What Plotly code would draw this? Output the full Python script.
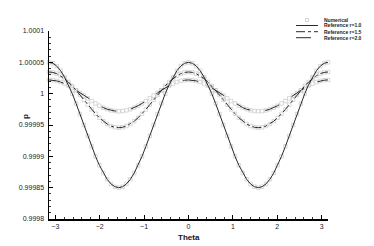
import numpy as np
import plotly.graph_objects as go

# ---- data ----
theta_deg = [-180, -175, -170, -165, -160, -155, -150, -145, -140, -135, -130, -125,
             -120, -115, -110, -105, -100, -95, -90, -85, -80, -75, -70, -65,
             -60, -55, -50, -45, -40, -35, -30, -25, -20, -15, -10, -5,
             0, 5, 10, 15, 20, 25, 30, 35, 40, 45, 50, 55,
             60, 65, 70, 75, 80, 85, 90, 95, 100, 105, 110, 115,
             120, 125, 130, 135, 140, 145, 150, 155, 160, 165, 170, 175, 180]

p_r10 = [1.0000500, 1.0000485, 1.0000440, 1.0000366, 1.0000266, 1.0000143, 1.0000000,
         0.9999842, 0.9999674, 0.9999500, 0.9999326, 0.9999158, 0.9999000, 0.9998857,
         0.9998734, 0.9998634, 0.9998560, 0.9998515, 0.9998500, 0.9998515, 0.9998560,
         0.9998634, 0.9998734, 0.9998857, 0.9999000, 0.9999158, 0.9999326, 0.9999500,
         0.9999674, 0.9999842, 1.0000000, 1.0000143, 1.0000266, 1.0000366, 1.0000440,
         1.0000485, 1.0000500, 1.0000485, 1.0000440, 1.0000366, 1.0000266, 1.0000143,
         1.0000000, 0.9999842, 0.9999674, 0.9999500, 0.9999326, 0.9999158, 0.9999000,
         0.9998857, 0.9998734, 0.9998634, 0.9998560, 0.9998515, 0.9998500, 0.9998515,
         0.9998560, 0.9998634, 0.9998734, 0.9998857, 0.9999000, 0.9999158, 0.9999326,
         0.9999500, 0.9999674, 0.9999842, 1.0000000, 1.0000143, 1.0000266, 1.0000366,
         1.0000440, 1.0000485, 1.0000500]

p_r15 = [1.0000346, 1.0000339, 1.0000319, 1.0000286, 1.0000242, 1.0000187, 1.0000123,
         1.0000053, 0.9999978, 0.9999901, 0.9999824, 0.9999749, 0.9999679, 0.9999616,
         0.9999561, 0.9999516, 0.9999484, 0.9999464, 0.9999457, 0.9999464, 0.9999484,
         0.9999516, 0.9999561, 0.9999616, 0.9999679, 0.9999749, 0.9999824, 0.9999901,
         0.9999978, 1.0000053, 1.0000123, 1.0000187, 1.0000242, 1.0000286, 1.0000319,
         1.0000339, 1.0000346, 1.0000339, 1.0000319, 1.0000286, 1.0000242, 1.0000187,
         1.0000123, 1.0000053, 0.9999978, 0.9999901, 0.9999824, 0.9999749, 0.9999679,
         0.9999616, 0.9999561, 0.9999516, 0.9999484, 0.9999464, 0.9999457, 0.9999464,
         0.9999484, 0.9999516, 0.9999561, 0.9999616, 0.9999679, 0.9999749, 0.9999824,
         0.9999901, 0.9999978, 1.0000053, 1.0000123, 1.0000187, 1.0000242, 1.0000286,
         1.0000319, 1.0000339, 1.0000346]

p_r20 = [1.0000219, 1.0000215, 1.0000204, 1.0000185, 1.0000160, 1.0000129, 1.0000094,
         1.0000054, 1.0000012, 0.9999969, 0.9999925, 0.9999883, 0.9999844, 0.9999808,
         0.9999777, 0.9999752, 0.9999734, 0.9999723, 0.9999719, 0.9999723, 0.9999734,
         0.9999752, 0.9999777, 0.9999808, 0.9999844, 0.9999883, 0.9999925, 0.9999969,
         1.0000012, 1.0000054, 1.0000094, 1.0000129, 1.0000160, 1.0000185, 1.0000204,
         1.0000215, 1.0000219, 1.0000215, 1.0000204, 1.0000185, 1.0000160, 1.0000129,
         1.0000094, 1.0000054, 1.0000012, 0.9999969, 0.9999925, 0.9999883, 0.9999844,
         0.9999808, 0.9999777, 0.9999752, 0.9999734, 0.9999723, 0.9999719, 0.9999723,
         0.9999734, 0.9999752, 0.9999777, 0.9999808, 0.9999844, 0.9999883, 0.9999925,
         0.9999969, 1.0000012, 1.0000054, 1.0000094, 1.0000129, 1.0000160, 1.0000185,
         1.0000204, 1.0000215, 1.0000219]

y_tickvals = [0.9998, 0.99985, 0.9999, 0.99995, 1.0, 1.00005, 1.0001]
y_ticktext = ["0.9998", "0.99985", "0.9999", "0.99995", "1", "1.00005", "1.0001"]
x_tickvals = [-3, -2, -1, 0, 1, 2, 3]

legend_labels = ["Numerical", "Reference r=1.0", "Reference r=1.5", "Reference r=2.0"]

theta = np.radians(theta_deg)

# ---- figure ----
W, H = 374, 246
L, R, T, B = 49, 46, 31, 27
fig = go.Figure()

marker_color = "#c8c8c8"
line_color = "#2a2a2a"
font_family = "Liberation Sans, Arial"

for series in (p_r10, p_r15, p_r20):
    fig.add_trace(go.Scatter(
        x=theta, y=series, mode="markers", showlegend=False, hoverinfo="skip",
        marker=dict(symbol="square-open", size=3.5, color=marker_color,
                    line=dict(width=0.7, color=marker_color)),
        cliponaxis=False))

for series, dash in ((p_r10, "solid"), (p_r15, "dashdot"), (p_r20, "longdash")):
    fig.add_trace(go.Scatter(
        x=theta, y=series, mode="lines", showlegend=False, hoverinfo="skip",
        line=dict(color=line_color, width=1, dash=dash),
        cliponaxis=False))

axis_common = dict(showgrid=False, zeroline=False, showline=True, linecolor="black",
                   linewidth=1.5, ticks="inside", ticklen=4, tickwidth=1,
                   tickcolor="black", mirror=False,
                   tickfont=dict(family=font_family, size=7, color="#222"))

fig.update_xaxes(range=[-np.pi, np.pi], tickvals=x_tickvals,
                 minor=dict(ticks="inside", ticklen=2, tickwidth=0.8,
                            tickcolor="black", dtick=0.2, tick0=0),
                 ticklabelstandoff=0,
                 **axis_common)
fig.update_yaxes(range=[0.9998, 1.0001], tickvals=y_tickvals, ticktext=y_ticktext,
                 minor=dict(ticks="inside", ticklen=2, tickwidth=0.8,
                            tickcolor="black", dtick=0.00001, tick0=0.9998),
                 ticklabelstandoff=2,
                 **axis_common)

pw, ph = W - L - R, H - T - B


def px(xp):
    return (xp - L) / pw


def py(yp):
    return (H - B - yp) / ph


annotations = [
    dict(text="<b>Theta</b>", x=px(189), y=py(237), xref="paper", yref="paper",
         showarrow=False, font=dict(family=font_family, size=8, color="#111"),
         xanchor="center", yanchor="middle"),
    dict(text="<b>p</b>", x=px(25), y=py(116), xref="paper", yref="paper",
         showarrow=False, textangle=-90,
         font=dict(family=font_family, size=8, color="#111"),
         xanchor="center", yanchor="middle"),
]

# manual legend
leg_y = [20, 25.5, 31.7, 37.7]
shapes = []
for lbl, yy in zip(legend_labels, leg_y):
    annotations.append(dict(text="<b>" + lbl + "</b>", x=px(321.5), y=py(yy),
                            xref="paper", yref="paper", showarrow=False,
                            xanchor="left", yanchor="middle",
                            font=dict(family=font_family, size=5, color="#222")))
shapes.append(dict(type="rect", xref="paper", yref="paper",
                   x0=px(305.5), x1=px(308.5), y0=py(21.5), y1=py(18.5),
                   line=dict(color=marker_color, width=0.8)))
for yy, dash in zip(leg_y[1:], ["solid", "dashdot", "longdash"]):
    shapes.append(dict(type="line", xref="paper", yref="paper",
                       x0=px(296), x1=px(318), y0=py(yy), y1=py(yy),
                       line=dict(color=line_color, width=1, dash=dash)))

fig.update_layout(width=W, height=H, margin=dict(l=L, r=R, t=T, b=B),
                  plot_bgcolor="white", paper_bgcolor="white", hovermode=False,
                  showlegend=False, annotations=annotations, shapes=shapes)

fig.write_html("out.html",
               config={"staticPlot": True, "displayModeBar": False},
               post_script="document.body.style.margin='0';document.body.style.overflow='hidden';")
